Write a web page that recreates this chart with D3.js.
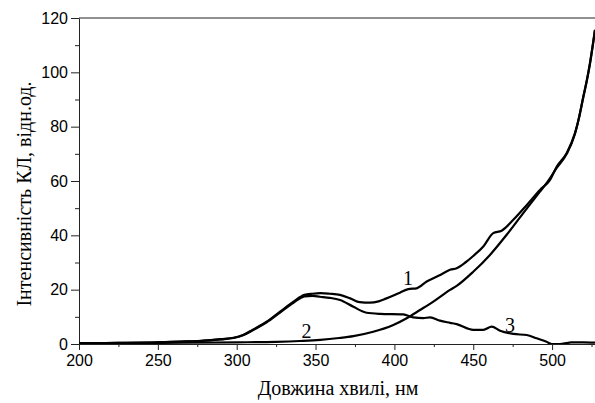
<!DOCTYPE html>
<html lang="uk">
<head>
<meta charset="utf-8">
<title></title>
<script src="https://cdn.jsdelivr.net/npm/d3@7"></script>
<style>
  body { margin: 0; background: #fff; }
  .tick text { font-family: "Liberation Sans", Arial, sans-serif; font-size: 16px; fill: #000; }
  .axis path, .axis line { stroke: #222; }
  .ttl { font-family: "Liberation Serif", "Times New Roman", serif; fill: #000; }
</style>
</head>
<body>
<script>
// curve 1 (upper)
var curve1X = [200,225,250,265,277,290,298,304,310,319,327.5,336,343,348,353,359,365.5,372,378,384.5,390,395,403.5,408.8,414,420.5,429,435.3,439.5,445,450,456.4,462.7,468,475.4,484,492.3,498.7,503,509.3,514.5,517,519.8,522,524,527.2];
var curve1Y = [0.3,0.4,0.6,0.9,1.2,1.8,2.3,3.3,5.2,8.2,11.9,15.6,18.1,18.5,18.7,18.5,18.1,16.8,15.4,15.2,15.7,16.8,18.9,20.2,20.5,23.0,25.4,27.3,27.9,30.0,32.4,35.9,40.8,41.7,45.7,51.2,56.7,60.4,65.3,70.3,77.6,83,91.1,97,103.4,115.7];

// curve 2 (rising)
var curve2X = [200,250,300,325,340,353,365,374,386.6,399.3,407.8,416.2,424.7,435.3,439.5,450,460.6,471.2,481.7,492.3,496.5,502.9,509.3,514.5,519.8,524,527.2];
var curve2Y = [0.2,0.4,0.6,0.8,1.1,1.5,2.2,2.9,4.5,7.0,9.5,12.5,15.6,19.9,21.4,26.6,32.8,40.2,48.2,56.1,59.2,64.8,70.0,77.3,90.8,103,115.5];

// curve 3 (band)
var curve3X = [200,225,250,265,277,290,298,304,310,319,327.5,336,343,348,352.8,359,365.5,374,382.4,390.9,405.6,412,418.3,422.6,428.9,435.3,439.5,450,456.4,461.7,467,475.4,483.9,490.2,496.5,499.7,505,509,512,520,527.2];
var curve3Y = [0.3,0.4,0.6,0.9,1.1,1.7,2.2,3.2,5.0,8.0,11.6,15.2,17.5,17.7,17.4,17.0,16.2,13.7,11.5,11.1,10.9,9.8,9.5,9.8,8.6,7.8,7.3,5.2,5.2,6.4,4.9,3.7,3.3,2.1,0.8,0,0,0.3,0.6,0.6,0.5];

var xTicks = [200,250,300,350,400,450,500];
var xMinor = [225,275,325,375,425,475,525];
var yTicks = [0,20,40,60,80,100,120];
var yMinor = [10,30,50,70,90,110];

var curveLabels = ["1","2","3"];
var labelX = [408.6,344.3,473.3];
var labelY = [21.7,2.2,4.5];

var xTitle = "Довжина хвилі, нм";
var yTitle = "Інтенсивність КЛ, відн.од.";

var w = 595, h = 403;
var padL = 79, padR = 599.4, padT = 18, padB = 344;

var svg = d3.select("body").append("svg")
  .attr("width", w).attr("height", h);

var xScale = d3.scaleLinear().domain([200, 530]).range([padL, padR]);
var yScale = d3.scaleLinear().domain([0, 120]).range([padB, padT]);

svg.append("defs").append("clipPath").attr("id", "clip")
  .append("rect").attr("x", padL).attr("y", padT - 2)
  .attr("width", padR - padL).attr("height", padB - padT + 2);

// top frame line
svg.append("line")
  .attr("x1", padL).attr("x2", w).attr("y1", padT).attr("y2", padT)
  .attr("stroke", "#222");

// minor ticks
svg.append("g").attr("class", "axis")
  .attr("transform", "translate(0," + padB + ")")
  .call(d3.axisBottom(xScale).tickValues(xMinor).tickSize(3).tickFormat(""))
  .select(".domain").remove();
svg.append("g").attr("class", "axis")
  .attr("transform", "translate(" + padL + ",0)")
  .call(d3.axisLeft(yScale).tickValues(yMinor).tickSize(4).tickFormat(""))
  .select(".domain").remove();

// major axes
svg.append("g").attr("class", "axis")
  .attr("transform", "translate(0," + padB + ")")
  .call(d3.axisBottom(xScale).tickValues(xTicks).tickSize(6).tickSizeOuter(0).tickPadding(5));
svg.append("g").attr("class", "axis")
  .attr("transform", "translate(" + padL + ",0)")
  .call(d3.axisLeft(yScale).tickValues(yTicks).tickSize(8).tickSizeOuter(0).tickPadding(3));

// curves
var series = [[curve1X, curve1Y], [curve2X, curve2Y], [curve3X, curve3Y]];
var line = d3.line()
  .x(function(d) { return xScale(d[0]); })
  .y(function(d) { return yScale(d[1]); })
  .curve(d3.curveMonotoneX);

svg.append("g").attr("clip-path", "url(#clip)")
  .selectAll("path")
  .data(series)
  .enter()
  .append("path")
  .attr("d", function(s) { return line(d3.zip(s[0], s[1])); })
  .attr("fill", "none")
  .attr("stroke", "#000")
  .attr("stroke-width", 2.2)
  .attr("stroke-linejoin", "round");

// curve numbers
svg.selectAll("text.num")
  .data(curveLabels)
  .enter()
  .append("text")
  .attr("class", "ttl num")
  .attr("x", function(d, i) { return xScale(labelX[i]); })
  .attr("y", function(d, i) { return yScale(labelY[i]); })
  .attr("text-anchor", "middle")
  .style("font-size", "20px")
  .text(function(d) { return d; });

// axis titles
svg.append("text").attr("class", "ttl")
  .attr("x", 338).attr("y", 395)
  .attr("text-anchor", "middle")
  .style("font-size", "20px")
  .text(xTitle);

svg.append("text").attr("class", "ttl")
  .attr("transform", "translate(31,194) rotate(-90)")
  .attr("text-anchor", "middle")
  .style("font-size", "20px")
  .text(yTitle);
</script>
</body>
</html>
